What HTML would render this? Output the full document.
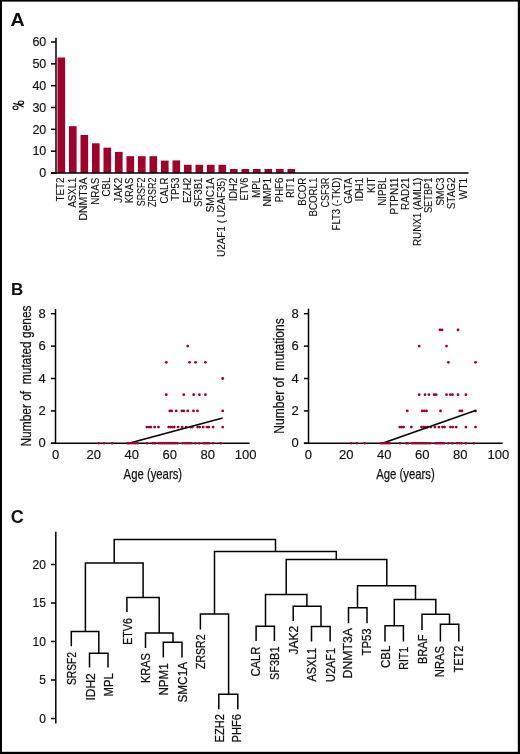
<!DOCTYPE html>
<html><head><meta charset="utf-8"><title>Figure</title>
<style>
html,body{margin:0;padding:0;background:#fff;}
svg{display:block;will-change:transform;}
text{font-family:"Liberation Sans", sans-serif;fill:#111;stroke:#111;stroke-width:0;}
.la{stroke-width:0.1px;} .lc{stroke-width:0.25px;} .tk{stroke-width:0.15px;} .lb{stroke-width:0.25px;}
</style></head>
<body>
<svg width="520" height="754" viewBox="0 0 520 754">
<rect width="520" height="754" fill="#fff"/>
<rect x="0" y="0" width="520" height="1.6" fill="#000"/>
<rect x="0" y="0" width="2" height="754" fill="#000"/>
<rect x="517.8" y="0" width="2.2" height="754" fill="#000"/>
<rect x="0" y="751.8" width="520" height="2.2" fill="#000"/>
<text transform="translate(10.4,25.8) scale(1.09,1)" font-size="18" font-weight="bold">A</text>
<text transform="translate(11.0,295.4)" font-size="17" font-weight="bold">B</text>
<text transform="translate(10.8,522.8)" font-size="18" font-weight="bold">C</text>
<rect x="57.50" y="57.50" width="7.6" height="115.50" fill="#a0002a"/>
<rect x="69.00" y="126.20" width="7.6" height="46.80" fill="#a0002a"/>
<rect x="80.50" y="135.00" width="7.6" height="38.00" fill="#a0002a"/>
<rect x="92.00" y="143.30" width="7.6" height="29.70" fill="#a0002a"/>
<rect x="103.50" y="147.70" width="7.6" height="25.30" fill="#a0002a"/>
<rect x="115.00" y="151.90" width="7.6" height="21.10" fill="#a0002a"/>
<rect x="126.50" y="156.20" width="7.6" height="16.80" fill="#a0002a"/>
<rect x="138.00" y="156.20" width="7.6" height="16.80" fill="#a0002a"/>
<rect x="149.50" y="156.20" width="7.6" height="16.80" fill="#a0002a"/>
<rect x="161.00" y="160.60" width="7.6" height="12.40" fill="#a0002a"/>
<rect x="172.50" y="160.40" width="7.6" height="12.60" fill="#a0002a"/>
<rect x="184.00" y="164.80" width="7.6" height="8.20" fill="#a0002a"/>
<rect x="195.50" y="164.80" width="7.6" height="8.20" fill="#a0002a"/>
<rect x="207.00" y="164.80" width="7.6" height="8.20" fill="#a0002a"/>
<rect x="218.50" y="164.80" width="7.6" height="8.20" fill="#a0002a"/>
<rect x="230.00" y="169.00" width="7.6" height="4.00" fill="#a0002a"/>
<rect x="241.50" y="169.00" width="7.6" height="4.00" fill="#a0002a"/>
<rect x="253.00" y="169.00" width="7.6" height="4.00" fill="#a0002a"/>
<rect x="264.50" y="169.00" width="7.6" height="4.00" fill="#a0002a"/>
<rect x="276.00" y="169.00" width="7.6" height="4.00" fill="#a0002a"/>
<rect x="287.50" y="169.00" width="7.6" height="4.00" fill="#a0002a"/>
<line x1="56.00" y1="37.70" x2="56.00" y2="173.75" stroke="#000" stroke-width="1.5"/>
<line x1="51.00" y1="173.00" x2="468.50" y2="173.00" stroke="#000" stroke-width="1.5"/>
<line x1="51.00" y1="173.00" x2="56.00" y2="173.00" stroke="#000" stroke-width="1.5"/>
<text class="tk" x="46.30" y="177.30" font-size="12.5" text-anchor="end" >0</text>
<line x1="51.00" y1="151.17" x2="56.00" y2="151.17" stroke="#000" stroke-width="1.5"/>
<text class="tk" x="46.30" y="155.47" font-size="12.5" text-anchor="end" >10</text>
<line x1="51.00" y1="129.34" x2="56.00" y2="129.34" stroke="#000" stroke-width="1.5"/>
<text class="tk" x="46.30" y="133.64" font-size="12.5" text-anchor="end" >20</text>
<line x1="51.00" y1="107.51" x2="56.00" y2="107.51" stroke="#000" stroke-width="1.5"/>
<text class="tk" x="46.30" y="111.81" font-size="12.5" text-anchor="end" >30</text>
<line x1="51.00" y1="85.68" x2="56.00" y2="85.68" stroke="#000" stroke-width="1.5"/>
<text class="tk" x="46.30" y="89.98" font-size="12.5" text-anchor="end" >40</text>
<line x1="51.00" y1="63.85" x2="56.00" y2="63.85" stroke="#000" stroke-width="1.5"/>
<text class="tk" x="46.30" y="68.15" font-size="12.5" text-anchor="end" >50</text>
<line x1="51.00" y1="42.02" x2="56.00" y2="42.02" stroke="#000" stroke-width="1.5"/>
<text class="tk" x="46.30" y="46.32" font-size="12.5" text-anchor="end" >60</text>
<g fill="none" stroke="#111" stroke-width="1.15"><ellipse cx="15.5" cy="107.7" rx="2.5" ry="1.75"/><ellipse cx="21.0" cy="102.7" rx="2.6" ry="1.7"/><path d="M13.3 103.4 Q18.5 104.6 20.4 105.4 T23.6 107.3"/></g>
<text class="la" transform="translate(64.30,201.50) rotate(-90)" font-size="10.1" textLength="23.90" lengthAdjust="spacingAndGlyphs" >TET2</text>
<text class="la" transform="translate(75.80,207.60) rotate(-90)" font-size="10.1" textLength="30.00" lengthAdjust="spacingAndGlyphs" >ASXL1</text>
<text class="la" transform="translate(87.30,220.60) rotate(-90)" font-size="10.1" textLength="43.00" lengthAdjust="spacingAndGlyphs" >DNMT3A</text>
<text class="la" transform="translate(98.80,204.80) rotate(-90)" font-size="10.1" textLength="27.20" lengthAdjust="spacingAndGlyphs" >NRAS</text>
<text class="la" transform="translate(110.30,196.50) rotate(-90)" font-size="10.1" textLength="18.90" lengthAdjust="spacingAndGlyphs" >CBL</text>
<text class="la" transform="translate(121.80,202.90) rotate(-90)" font-size="10.1" textLength="25.30" lengthAdjust="spacingAndGlyphs" >JAK2</text>
<text class="la" transform="translate(133.30,203.20) rotate(-90)" font-size="10.1" textLength="25.60" lengthAdjust="spacingAndGlyphs" >KRAS</text>
<text class="la" transform="translate(144.80,206.30) rotate(-90)" font-size="10.1" textLength="28.70" lengthAdjust="spacingAndGlyphs" >SRSF2</text>
<text class="la" transform="translate(156.30,206.90) rotate(-90)" font-size="10.1" textLength="29.30" lengthAdjust="spacingAndGlyphs" >ZRSR2</text>
<text class="la" transform="translate(167.80,203.40) rotate(-90)" font-size="10.1" textLength="25.80" lengthAdjust="spacingAndGlyphs" >CALR</text>
<text class="la" transform="translate(179.30,200.90) rotate(-90)" font-size="10.1" textLength="23.30" lengthAdjust="spacingAndGlyphs" >TP53</text>
<text class="la" transform="translate(190.80,203.10) rotate(-90)" font-size="10.1" textLength="25.50" lengthAdjust="spacingAndGlyphs" >EZH2</text>
<text class="la" transform="translate(202.30,206.90) rotate(-90)" font-size="10.1" textLength="29.30" lengthAdjust="spacingAndGlyphs" >SF3B1</text>
<text class="la" transform="translate(213.80,212.60) rotate(-90)" font-size="10.1" textLength="35.00" lengthAdjust="spacingAndGlyphs" >SMC1A</text>
<text class="la" transform="translate(225.30,257.00) rotate(-90)" font-size="10.1" textLength="79.40" lengthAdjust="spacingAndGlyphs" >U2AF1 ( U2AF35)</text>
<text class="la" transform="translate(236.80,201.30) rotate(-90)" font-size="10.1" textLength="23.70" lengthAdjust="spacingAndGlyphs" >IDH2</text>
<text class="la" transform="translate(248.30,200.60) rotate(-90)" font-size="10.1" textLength="23.00" lengthAdjust="spacingAndGlyphs" >ETV6</text>
<text class="la" transform="translate(259.80,198.10) rotate(-90)" font-size="10.1" textLength="20.50" lengthAdjust="spacingAndGlyphs" >MPL</text>
<text class="la" transform="translate(271.30,206.50) rotate(-90)" font-size="10.1" textLength="28.90" lengthAdjust="spacingAndGlyphs" >NMP1</text>
<text class="la" transform="translate(282.80,202.30) rotate(-90)" font-size="10.1" textLength="24.70" lengthAdjust="spacingAndGlyphs" >PHF6</text>
<text class="la" transform="translate(294.30,198.10) rotate(-90)" font-size="10.1" textLength="20.50" lengthAdjust="spacingAndGlyphs" >RIT1</text>
<text class="la" transform="translate(305.80,205.80) rotate(-90)" font-size="10.1" textLength="28.20" lengthAdjust="spacingAndGlyphs" >BCOR</text>
<text class="la" transform="translate(317.30,216.50) rotate(-90)" font-size="10.1" textLength="38.90" lengthAdjust="spacingAndGlyphs" >BCORL1</text>
<text class="la" transform="translate(328.80,207.60) rotate(-90)" font-size="10.1" textLength="30.00" lengthAdjust="spacingAndGlyphs" >CSF3R</text>
<text class="la" transform="translate(340.30,230.40) rotate(-90)" font-size="10.1" textLength="52.80" lengthAdjust="spacingAndGlyphs" >FLT3 (-TKD)</text>
<text class="la" transform="translate(351.80,203.80) rotate(-90)" font-size="10.1" textLength="26.20" lengthAdjust="spacingAndGlyphs" >GATA</text>
<text class="la" transform="translate(363.30,201.50) rotate(-90)" font-size="10.1" textLength="23.90" lengthAdjust="spacingAndGlyphs" >IDH1</text>
<text class="la" transform="translate(374.80,192.90) rotate(-90)" font-size="10.1" textLength="15.30" lengthAdjust="spacingAndGlyphs" >KIT</text>
<text class="la" transform="translate(386.30,205.80) rotate(-90)" font-size="10.1" textLength="28.20" lengthAdjust="spacingAndGlyphs" >NIPBL</text>
<text class="la" transform="translate(397.80,214.40) rotate(-90)" font-size="10.1" textLength="36.80" lengthAdjust="spacingAndGlyphs" >PTPN11</text>
<text class="la" transform="translate(409.30,210.00) rotate(-90)" font-size="10.1" textLength="32.40" lengthAdjust="spacingAndGlyphs" >RAD21</text>
<text class="la" transform="translate(420.80,246.10) rotate(-90)" font-size="10.1" textLength="68.50" lengthAdjust="spacingAndGlyphs" >RUNX1 (AML1)</text>
<text class="la" transform="translate(432.30,213.10) rotate(-90)" font-size="10.1" textLength="35.50" lengthAdjust="spacingAndGlyphs" >SETBP1</text>
<text class="la" transform="translate(443.80,205.80) rotate(-90)" font-size="10.1" textLength="28.20" lengthAdjust="spacingAndGlyphs" >SMC3</text>
<text class="la" transform="translate(455.30,209.20) rotate(-90)" font-size="10.1" textLength="31.60" lengthAdjust="spacingAndGlyphs" >STAG2</text>
<text class="la" transform="translate(466.80,199.60) rotate(-90)" font-size="10.1" textLength="22.00" lengthAdjust="spacingAndGlyphs" >WT1</text>
<circle cx="187.7" cy="346.10" r="1.4" fill="#a0002a"/>
<circle cx="166.3" cy="362.30" r="1.4" fill="#a0002a"/>
<circle cx="189.6" cy="362.30" r="1.4" fill="#a0002a"/>
<circle cx="195.6" cy="362.30" r="1.4" fill="#a0002a"/>
<circle cx="205.4" cy="362.30" r="1.4" fill="#a0002a"/>
<circle cx="222.7" cy="378.50" r="1.4" fill="#a0002a"/>
<circle cx="166.3" cy="394.70" r="1.4" fill="#a0002a"/>
<circle cx="183.8" cy="394.70" r="1.4" fill="#a0002a"/>
<circle cx="193.7" cy="394.70" r="1.4" fill="#a0002a"/>
<circle cx="199.4" cy="394.70" r="1.4" fill="#a0002a"/>
<circle cx="205.4" cy="394.70" r="1.4" fill="#a0002a"/>
<circle cx="169.80" cy="410.90" r="1.4" fill="#a0002a"/>
<circle cx="171.70" cy="410.90" r="1.4" fill="#a0002a"/>
<circle cx="176.2" cy="410.90" r="1.4" fill="#a0002a"/>
<circle cx="181.90" cy="410.90" r="1.4" fill="#a0002a"/>
<circle cx="183.80" cy="410.90" r="1.4" fill="#a0002a"/>
<circle cx="187.7" cy="410.90" r="1.4" fill="#a0002a"/>
<circle cx="193.5" cy="410.90" r="1.4" fill="#a0002a"/>
<circle cx="197.5" cy="410.90" r="1.4" fill="#a0002a"/>
<circle cx="222.7" cy="410.90" r="1.4" fill="#a0002a"/>
<circle cx="146.90" cy="427.10" r="1.4" fill="#a0002a"/>
<circle cx="148.95" cy="427.10" r="1.4" fill="#a0002a"/>
<circle cx="151.00" cy="427.10" r="1.4" fill="#a0002a"/>
<circle cx="154.7" cy="427.10" r="1.4" fill="#a0002a"/>
<circle cx="158.5" cy="427.10" r="1.4" fill="#a0002a"/>
<circle cx="168.70" cy="427.10" r="1.4" fill="#a0002a"/>
<circle cx="170.53" cy="427.10" r="1.4" fill="#a0002a"/>
<circle cx="172.37" cy="427.10" r="1.4" fill="#a0002a"/>
<circle cx="174.20" cy="427.10" r="1.4" fill="#a0002a"/>
<circle cx="178.1" cy="427.10" r="1.4" fill="#a0002a"/>
<circle cx="182.1" cy="427.10" r="1.4" fill="#a0002a"/>
<circle cx="186.2" cy="427.10" r="1.4" fill="#a0002a"/>
<circle cx="190.50" cy="427.10" r="1.4" fill="#a0002a"/>
<circle cx="192.30" cy="427.10" r="1.4" fill="#a0002a"/>
<circle cx="197.70" cy="427.10" r="1.4" fill="#a0002a"/>
<circle cx="199.60" cy="427.10" r="1.4" fill="#a0002a"/>
<circle cx="203.2" cy="427.10" r="1.4" fill="#a0002a"/>
<circle cx="206.90" cy="427.10" r="1.4" fill="#a0002a"/>
<circle cx="208.80" cy="427.10" r="1.4" fill="#a0002a"/>
<circle cx="213.1" cy="427.10" r="1.4" fill="#a0002a"/>
<circle cx="222.7" cy="427.10" r="1.4" fill="#a0002a"/>
<g>
<line x1="55.50" y1="309.00" x2="55.50" y2="444.05" stroke="#000" stroke-width="1.5"/>
<line x1="50.90" y1="443.30" x2="249.70" y2="443.30" stroke="#000" stroke-width="1.5"/>
</g>
<line x1="50.90" y1="443.30" x2="55.50" y2="443.30" stroke="#000" stroke-width="1.5"/>
<text class="tk" x="45.80" y="447.30" font-size="13" text-anchor="end" >0</text>
<line x1="50.90" y1="410.90" x2="55.50" y2="410.90" stroke="#000" stroke-width="1.5"/>
<text class="tk" x="45.80" y="414.90" font-size="13" text-anchor="end" >2</text>
<line x1="50.90" y1="378.50" x2="55.50" y2="378.50" stroke="#000" stroke-width="1.5"/>
<text class="tk" x="45.80" y="382.50" font-size="13" text-anchor="end" >4</text>
<line x1="50.90" y1="346.10" x2="55.50" y2="346.10" stroke="#000" stroke-width="1.5"/>
<text class="tk" x="45.80" y="350.10" font-size="13" text-anchor="end" >6</text>
<line x1="50.90" y1="313.70" x2="55.50" y2="313.70" stroke="#000" stroke-width="1.5"/>
<text class="tk" x="45.80" y="317.70" font-size="13" text-anchor="end" >8</text>
<text class="tk" x="55.70" y="459.00" font-size="13" text-anchor="middle" >0</text>
<text class="tk" x="93.70" y="459.00" font-size="13" text-anchor="middle" >20</text>
<text class="tk" x="131.70" y="459.00" font-size="13" text-anchor="middle" >40</text>
<text class="tk" x="169.70" y="459.00" font-size="13" text-anchor="middle" >60</text>
<text class="tk" x="207.70" y="459.00" font-size="13" text-anchor="middle" >80</text>
<text class="tk" x="245.70" y="459.00" font-size="13" text-anchor="middle" >100</text>
<text class="lb" x="123.60" y="479.20" font-size="15.0" text-anchor="start" textLength="58.50" lengthAdjust="spacingAndGlyphs" >Age (years)</text>
<text class="lb" transform="translate(31.00,446.50) rotate(-90)" font-size="15.0" textLength="141.00" lengthAdjust="spacingAndGlyphs" >Number of&#160; mutated genes</text>
<line x1="128.00" y1="443.50" x2="222.70" y2="418.10" stroke="#000" stroke-width="1.6"/>
<circle cx="440.00" cy="329.90" r="1.4" fill="#a0002a"/>
<circle cx="442.00" cy="329.90" r="1.4" fill="#a0002a"/>
<circle cx="458.0" cy="329.90" r="1.4" fill="#a0002a"/>
<circle cx="419.2" cy="346.10" r="1.4" fill="#a0002a"/>
<circle cx="446.5" cy="346.10" r="1.4" fill="#a0002a"/>
<circle cx="448.3" cy="362.30" r="1.4" fill="#a0002a"/>
<circle cx="475.5" cy="362.30" r="1.4" fill="#a0002a"/>
<circle cx="419.2" cy="394.70" r="1.4" fill="#a0002a"/>
<circle cx="425.0" cy="394.70" r="1.4" fill="#a0002a"/>
<circle cx="428.9" cy="394.70" r="1.4" fill="#a0002a"/>
<circle cx="434.20" cy="394.70" r="1.4" fill="#a0002a"/>
<circle cx="436.20" cy="394.70" r="1.4" fill="#a0002a"/>
<circle cx="446.5" cy="394.70" r="1.4" fill="#a0002a"/>
<circle cx="450.40" cy="394.70" r="1.4" fill="#a0002a"/>
<circle cx="452.50" cy="394.70" r="1.4" fill="#a0002a"/>
<circle cx="458.0" cy="394.70" r="1.4" fill="#a0002a"/>
<circle cx="465.9" cy="394.70" r="1.4" fill="#a0002a"/>
<circle cx="407.3" cy="410.90" r="1.4" fill="#a0002a"/>
<circle cx="422.30" cy="410.90" r="1.4" fill="#a0002a"/>
<circle cx="424.40" cy="410.90" r="1.4" fill="#a0002a"/>
<circle cx="426.50" cy="410.90" r="1.4" fill="#a0002a"/>
<circle cx="440.5" cy="410.90" r="1.4" fill="#a0002a"/>
<circle cx="459.80" cy="410.90" r="1.4" fill="#a0002a"/>
<circle cx="462.00" cy="410.90" r="1.4" fill="#a0002a"/>
<circle cx="475.5" cy="410.90" r="1.4" fill="#a0002a"/>
<circle cx="399.80" cy="427.10" r="1.4" fill="#a0002a"/>
<circle cx="401.70" cy="427.10" r="1.4" fill="#a0002a"/>
<circle cx="403.60" cy="427.10" r="1.4" fill="#a0002a"/>
<circle cx="411.3" cy="427.10" r="1.4" fill="#a0002a"/>
<circle cx="421.50" cy="427.10" r="1.4" fill="#a0002a"/>
<circle cx="423.50" cy="427.10" r="1.4" fill="#a0002a"/>
<circle cx="425.50" cy="427.10" r="1.4" fill="#a0002a"/>
<circle cx="427.50" cy="427.10" r="1.4" fill="#a0002a"/>
<circle cx="430.8" cy="427.10" r="1.4" fill="#a0002a"/>
<circle cx="434.9" cy="427.10" r="1.4" fill="#a0002a"/>
<circle cx="438.9" cy="427.10" r="1.4" fill="#a0002a"/>
<circle cx="442.50" cy="427.10" r="1.4" fill="#a0002a"/>
<circle cx="444.50" cy="427.10" r="1.4" fill="#a0002a"/>
<circle cx="450.40" cy="427.10" r="1.4" fill="#a0002a"/>
<circle cx="452.80" cy="427.10" r="1.4" fill="#a0002a"/>
<circle cx="456.2" cy="427.10" r="1.4" fill="#a0002a"/>
<circle cx="465.9" cy="427.10" r="1.4" fill="#a0002a"/>
<circle cx="475.5" cy="427.10" r="1.4" fill="#a0002a"/>
<g>
<line x1="308.50" y1="308.70" x2="308.50" y2="444.05" stroke="#000" stroke-width="1.5"/>
<line x1="303.90" y1="443.30" x2="502.70" y2="443.30" stroke="#000" stroke-width="1.5"/>
</g>
<line x1="303.90" y1="443.30" x2="308.50" y2="443.30" stroke="#000" stroke-width="1.5"/>
<text class="tk" x="298.80" y="447.30" font-size="13" text-anchor="end" >0</text>
<line x1="303.90" y1="410.90" x2="308.50" y2="410.90" stroke="#000" stroke-width="1.5"/>
<text class="tk" x="298.80" y="414.90" font-size="13" text-anchor="end" >2</text>
<line x1="303.90" y1="378.50" x2="308.50" y2="378.50" stroke="#000" stroke-width="1.5"/>
<text class="tk" x="298.80" y="382.50" font-size="13" text-anchor="end" >4</text>
<line x1="303.90" y1="346.10" x2="308.50" y2="346.10" stroke="#000" stroke-width="1.5"/>
<text class="tk" x="298.80" y="350.10" font-size="13" text-anchor="end" >6</text>
<line x1="303.90" y1="313.70" x2="308.50" y2="313.70" stroke="#000" stroke-width="1.5"/>
<text class="tk" x="298.80" y="317.70" font-size="13" text-anchor="end" >8</text>
<text class="tk" x="308.30" y="459.00" font-size="13" text-anchor="middle" >0</text>
<text class="tk" x="346.30" y="459.00" font-size="13" text-anchor="middle" >20</text>
<text class="tk" x="384.30" y="459.00" font-size="13" text-anchor="middle" >40</text>
<text class="tk" x="422.30" y="459.00" font-size="13" text-anchor="middle" >60</text>
<text class="tk" x="460.30" y="459.00" font-size="13" text-anchor="middle" >80</text>
<text class="tk" x="498.30" y="459.00" font-size="13" text-anchor="middle" >100</text>
<text class="lb" x="376.20" y="479.20" font-size="15.0" text-anchor="start" textLength="58.50" lengthAdjust="spacingAndGlyphs" >Age (years)</text>
<text class="lb" transform="translate(283.90,433.80) rotate(-90)" font-size="15.0" textLength="115.60" lengthAdjust="spacingAndGlyphs" >Number of&#160; mutations</text>
<line x1="382.50" y1="443.30" x2="475.50" y2="410.50" stroke="#000" stroke-width="1.6"/>
<circle cx="98.5" cy="443.30" r="1.3" fill="#a0002a"/>
<circle cx="104.2" cy="443.30" r="1.3" fill="#a0002a"/>
<circle cx="112.0" cy="443.30" r="1.3" fill="#a0002a"/>
<circle cx="127.50" cy="443.30" r="1.3" fill="#a0002a"/>
<circle cx="129.50" cy="443.30" r="1.3" fill="#a0002a"/>
<circle cx="131.50" cy="443.30" r="1.3" fill="#a0002a"/>
<circle cx="133.50" cy="443.30" r="1.3" fill="#a0002a"/>
<circle cx="135.50" cy="443.30" r="1.3" fill="#a0002a"/>
<circle cx="137.50" cy="443.30" r="1.3" fill="#a0002a"/>
<circle cx="146.9" cy="443.30" r="1.3" fill="#a0002a"/>
<circle cx="153.00" cy="443.30" r="1.3" fill="#a0002a"/>
<circle cx="155.00" cy="443.30" r="1.3" fill="#a0002a"/>
<circle cx="158.80" cy="443.30" r="1.3" fill="#a0002a"/>
<circle cx="160.68" cy="443.30" r="1.3" fill="#a0002a"/>
<circle cx="162.56" cy="443.30" r="1.3" fill="#a0002a"/>
<circle cx="164.44" cy="443.30" r="1.3" fill="#a0002a"/>
<circle cx="166.32" cy="443.30" r="1.3" fill="#a0002a"/>
<circle cx="168.20" cy="443.30" r="1.3" fill="#a0002a"/>
<circle cx="170.08" cy="443.30" r="1.3" fill="#a0002a"/>
<circle cx="171.96" cy="443.30" r="1.3" fill="#a0002a"/>
<circle cx="173.84" cy="443.30" r="1.3" fill="#a0002a"/>
<circle cx="175.72" cy="443.30" r="1.3" fill="#a0002a"/>
<circle cx="177.60" cy="443.30" r="1.3" fill="#a0002a"/>
<circle cx="182.70" cy="443.30" r="1.3" fill="#a0002a"/>
<circle cx="184.82" cy="443.30" r="1.3" fill="#a0002a"/>
<circle cx="186.95" cy="443.30" r="1.3" fill="#a0002a"/>
<circle cx="189.07" cy="443.30" r="1.3" fill="#a0002a"/>
<circle cx="191.20" cy="443.30" r="1.3" fill="#a0002a"/>
<circle cx="195.4" cy="443.30" r="1.3" fill="#a0002a"/>
<circle cx="199.2" cy="443.30" r="1.3" fill="#a0002a"/>
<circle cx="203.80" cy="443.30" r="1.3" fill="#a0002a"/>
<circle cx="205.47" cy="443.30" r="1.3" fill="#a0002a"/>
<circle cx="207.13" cy="443.30" r="1.3" fill="#a0002a"/>
<circle cx="208.80" cy="443.30" r="1.3" fill="#a0002a"/>
<circle cx="213.1" cy="443.30" r="1.3" fill="#a0002a"/>
<circle cx="220.8" cy="443.30" r="1.3" fill="#a0002a"/>
<circle cx="351.1" cy="443.30" r="1.3" fill="#a0002a"/>
<circle cx="356.8" cy="443.30" r="1.3" fill="#a0002a"/>
<circle cx="364.6" cy="443.30" r="1.3" fill="#a0002a"/>
<circle cx="380.90" cy="443.30" r="1.3" fill="#a0002a"/>
<circle cx="382.66" cy="443.30" r="1.3" fill="#a0002a"/>
<circle cx="384.42" cy="443.30" r="1.3" fill="#a0002a"/>
<circle cx="386.18" cy="443.30" r="1.3" fill="#a0002a"/>
<circle cx="387.94" cy="443.30" r="1.3" fill="#a0002a"/>
<circle cx="389.70" cy="443.30" r="1.3" fill="#a0002a"/>
<circle cx="400.0" cy="443.30" r="1.3" fill="#a0002a"/>
<circle cx="406.50" cy="443.30" r="1.3" fill="#a0002a"/>
<circle cx="407.80" cy="443.30" r="1.3" fill="#a0002a"/>
<circle cx="412.20" cy="443.30" r="1.3" fill="#a0002a"/>
<circle cx="414.03" cy="443.30" r="1.3" fill="#a0002a"/>
<circle cx="415.86" cy="443.30" r="1.3" fill="#a0002a"/>
<circle cx="417.69" cy="443.30" r="1.3" fill="#a0002a"/>
<circle cx="419.52" cy="443.30" r="1.3" fill="#a0002a"/>
<circle cx="421.35" cy="443.30" r="1.3" fill="#a0002a"/>
<circle cx="423.18" cy="443.30" r="1.3" fill="#a0002a"/>
<circle cx="425.01" cy="443.30" r="1.3" fill="#a0002a"/>
<circle cx="426.84" cy="443.30" r="1.3" fill="#a0002a"/>
<circle cx="428.67" cy="443.30" r="1.3" fill="#a0002a"/>
<circle cx="430.50" cy="443.30" r="1.3" fill="#a0002a"/>
<circle cx="435.40" cy="443.30" r="1.3" fill="#a0002a"/>
<circle cx="437.16" cy="443.30" r="1.3" fill="#a0002a"/>
<circle cx="438.92" cy="443.30" r="1.3" fill="#a0002a"/>
<circle cx="440.68" cy="443.30" r="1.3" fill="#a0002a"/>
<circle cx="442.44" cy="443.30" r="1.3" fill="#a0002a"/>
<circle cx="444.20" cy="443.30" r="1.3" fill="#a0002a"/>
<circle cx="448.4" cy="443.30" r="1.3" fill="#a0002a"/>
<circle cx="452.2" cy="443.30" r="1.3" fill="#a0002a"/>
<circle cx="457.00" cy="443.30" r="1.3" fill="#a0002a"/>
<circle cx="459.30" cy="443.30" r="1.3" fill="#a0002a"/>
<circle cx="461.60" cy="443.30" r="1.3" fill="#a0002a"/>
<circle cx="466.0" cy="443.30" r="1.3" fill="#a0002a"/>
<circle cx="473.8" cy="443.30" r="1.3" fill="#a0002a"/>
<line x1="55.80" y1="531.80" x2="55.80" y2="723.40" stroke="#000" stroke-width="1.5"/>
<line x1="51.00" y1="718.50" x2="55.80" y2="718.50" stroke="#000" stroke-width="1.5"/>
<text class="tk" x="45.90" y="722.80" font-size="12.0" text-anchor="end" >0</text>
<line x1="51.00" y1="680.00" x2="55.80" y2="680.00" stroke="#000" stroke-width="1.5"/>
<text class="tk" x="45.90" y="684.30" font-size="12.0" text-anchor="end" >5</text>
<line x1="51.00" y1="641.50" x2="55.80" y2="641.50" stroke="#000" stroke-width="1.5"/>
<text class="tk" x="45.90" y="645.80" font-size="12.0" text-anchor="end" >10</text>
<line x1="51.00" y1="603.00" x2="55.80" y2="603.00" stroke="#000" stroke-width="1.5"/>
<text class="tk" x="45.90" y="607.30" font-size="12.0" text-anchor="end" >15</text>
<line x1="51.00" y1="564.50" x2="55.80" y2="564.50" stroke="#000" stroke-width="1.5"/>
<text class="tk" x="45.90" y="568.80" font-size="12.0" text-anchor="end" >20</text>
<path d="M113.45 539.60H276.25 M114.20 539.60V563.00 M275.50 539.60V551.60 M84.65 563.00H143.85 M85.40 563.00V631.60 M143.10 563.00V597.40 M70.55 631.60H99.55 M71.30 631.60V646.20 M98.80 631.60V653.30 M88.75 653.30H108.75 M89.50 653.30V667.50 M108.00 653.30V667.50 M126.15 597.40H159.95 M126.90 597.40V611.90 M159.20 597.40V633.10 M144.75 633.10H173.75 M145.50 633.10V648.00 M173.00 633.10V642.20 M162.55 642.20H182.75 M163.30 642.20V657.50 M182.00 642.20V657.50 M213.75 551.60H337.05 M214.50 551.60V614.00 M336.30 551.60V559.40 M199.65 614.00H229.35 M200.40 614.00V629.60 M228.60 614.00V694.30 M218.05 694.30H238.55 M218.80 694.30V709.20 M237.80 694.30V709.20 M285.45 559.40H387.55 M286.20 559.40V594.60 M386.80 559.40V585.80 M264.75 594.60H307.65 M265.50 594.60V626.20 M306.90 594.60V606.30 M255.35 626.20H275.15 M256.10 626.20V640.90 M274.40 626.20V640.90 M292.45 606.30H321.75 M293.20 606.30V621.10 M321.00 606.30V626.50 M310.75 626.50H330.85 M311.50 626.50V641.60 M330.10 626.50V641.60 M356.75 585.80H416.25 M357.50 585.80V607.70 M415.50 585.80V599.50 M347.75 607.70H367.75 M348.50 607.70V623.30 M367.00 607.70V623.30 M393.55 599.50H436.55 M394.30 599.50V625.80 M435.80 599.50V614.30 M384.25 625.80H404.15 M385.00 625.80V641.50 M403.40 625.80V641.50 M421.25 614.30H450.25 M422.00 614.30V630.00 M449.50 614.30V624.20 M439.65 624.20H459.55 M440.40 624.20V641.50 M458.80 624.20V641.50" stroke="#000" stroke-width="1.5" fill="none"/>
<text class="lc" transform="translate(75.60,685.10) rotate(-90)" font-size="12.2" textLength="33.10" lengthAdjust="spacingAndGlyphs" >SRSF2</text>
<text class="lc" transform="translate(94.50,700.60) rotate(-90)" font-size="12.2" textLength="27.40" lengthAdjust="spacingAndGlyphs" >IDH2</text>
<text class="lc" transform="translate(112.70,696.40) rotate(-90)" font-size="12.2" textLength="23.20" lengthAdjust="spacingAndGlyphs" >MPL</text>
<text class="lc" transform="translate(131.70,644.80) rotate(-90)" font-size="12.2" textLength="26.60" lengthAdjust="spacingAndGlyphs" >ETV6</text>
<text class="lc" transform="translate(149.70,683.10) rotate(-90)" font-size="12.2" textLength="29.90" lengthAdjust="spacingAndGlyphs" >KRAS</text>
<text class="lc" transform="translate(168.20,695.60) rotate(-90)" font-size="12.2" textLength="32.40" lengthAdjust="spacingAndGlyphs" >NPM1</text>
<text class="lc" transform="translate(186.50,702.60) rotate(-90)" font-size="12.2" textLength="40.70" lengthAdjust="spacingAndGlyphs" >SMC1A</text>
<text class="lc" transform="translate(205.10,669.00) rotate(-90)" font-size="12.2" textLength="34.50" lengthAdjust="spacingAndGlyphs" >ZRSR2</text>
<text class="lc" transform="translate(223.50,742.40) rotate(-90)" font-size="12.2" textLength="28.30" lengthAdjust="spacingAndGlyphs" >EZH2</text>
<text class="lc" transform="translate(241.40,742.40) rotate(-90)" font-size="12.2" textLength="28.30" lengthAdjust="spacingAndGlyphs" >PHF6</text>
<text class="lc" transform="translate(260.40,676.50) rotate(-90)" font-size="12.2" textLength="30.00" lengthAdjust="spacingAndGlyphs" >CALR</text>
<text class="lc" transform="translate(279.20,680.00) rotate(-90)" font-size="12.2" textLength="33.50" lengthAdjust="spacingAndGlyphs" >SF3B1</text>
<text class="lc" transform="translate(297.50,654.40) rotate(-90)" font-size="12.2" textLength="28.60" lengthAdjust="spacingAndGlyphs" >JAK2</text>
<text class="lc" transform="translate(316.40,681.40) rotate(-90)" font-size="12.2" textLength="33.50" lengthAdjust="spacingAndGlyphs" >ASXL1</text>
<text class="lc" transform="translate(334.70,681.90) rotate(-90)" font-size="12.2" textLength="34.00" lengthAdjust="spacingAndGlyphs" >U2AF1</text>
<text class="lc" transform="translate(352.40,678.40) rotate(-90)" font-size="12.2" textLength="50.40" lengthAdjust="spacingAndGlyphs" >DNMT3A</text>
<text class="lc" transform="translate(370.70,655.50) rotate(-90)" font-size="12.2" textLength="27.10" lengthAdjust="spacingAndGlyphs" >TP53</text>
<text class="lc" transform="translate(389.70,668.00) rotate(-90)" font-size="12.2" textLength="22.40" lengthAdjust="spacingAndGlyphs" >CBL</text>
<text class="lc" transform="translate(408.20,669.80) rotate(-90)" font-size="12.2" textLength="23.10" lengthAdjust="spacingAndGlyphs" >RIT1</text>
<text class="lc" transform="translate(426.70,664.10) rotate(-90)" font-size="12.2" textLength="29.60" lengthAdjust="spacingAndGlyphs" >BRAF</text>
<text class="lc" transform="translate(444.40,677.20) rotate(-90)" font-size="12.2" textLength="31.20" lengthAdjust="spacingAndGlyphs" >NRAS</text>
<text class="lc" transform="translate(462.90,672.60) rotate(-90)" font-size="12.2" textLength="27.00" lengthAdjust="spacingAndGlyphs" >TET2</text>
</svg>
</body></html>
